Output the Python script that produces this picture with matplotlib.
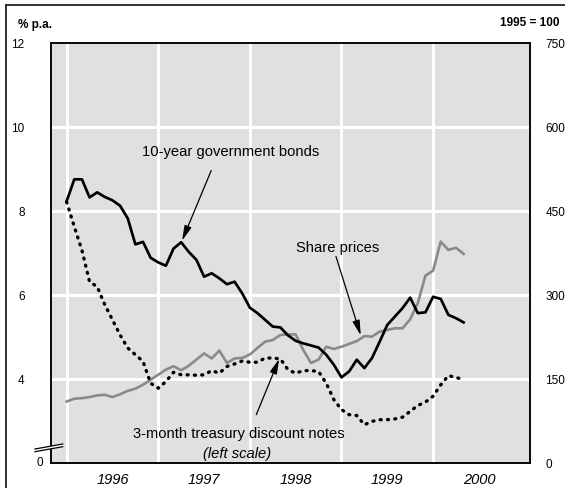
import numpy as np
import matplotlib
matplotlib.use("Agg")
import matplotlib.pyplot as plt
from matplotlib.lines import Line2D
from matplotlib.patches import Polygon

plt.rcParams['font.family'] = ['Liberation Sans', 'DejaVu Sans']

# Monthly data, Jan 1996 .. May 2000
start_year = 1996
bonds10y = [8.23, 8.75, 8.75, 8.32, 8.44, 8.33, 8.25, 8.12, 7.82, 7.20,
            7.26, 6.88, 6.77, 6.69, 7.10, 7.25, 7.02, 6.83, 6.43, 6.51,
            6.39, 6.25, 6.31, 6.03, 5.69, 5.56, 5.40, 5.24, 5.22, 5.03,
            4.90, 4.84, 4.79, 4.74, 4.57, 4.33, 4.03, 4.17, 4.45, 4.25,
            4.49, 4.88, 5.28, 5.48, 5.68, 5.93, 5.56, 5.58, 5.95, 5.90,
            5.52, 5.44, 5.34]
notes3m = [8.21, 7.62, 7.06, 6.31, 6.19, 5.76, 5.40, 5.04, 4.73, 4.57,
           4.41, 3.89, 3.77, 3.93, 4.15, 4.09, 4.09, 4.08, 4.09, 4.19,
           4.13, 4.29, 4.35, 4.42, 4.39, 4.39, 4.49, 4.49, 4.47, 4.21,
           4.13, 4.19, 4.19, 4.17, 3.89, 3.50, 3.26, 3.14, 3.12, 2.90,
           2.98, 3.02, 3.02, 3.04, 3.08, 3.22, 3.36, 3.44, 3.58, 3.85,
           4.07, 4.03, 3.97]
shares = [109, 114, 115, 117, 120, 121, 117, 122, 128, 132,
          139, 148, 157, 166, 172, 165, 173, 184, 195, 186,
          200, 178, 186, 187, 193, 205, 216, 219, 228, 229,
          229, 201, 178, 184, 207, 203, 207, 212, 217, 226,
          225, 234, 237, 240, 240, 256, 285, 334, 343, 395,
          380, 384, 373]

left_ticks = [4, 6, 8, 10, 12]
left_tick_labels = ['4', '6', '8', '10', '12']
right_ticks = [0, 150, 300, 450, 600, 750]
year_labels = ['1996', '1997', '1998', '1999', '2000']

W, H = 565, 489
fig = plt.figure(figsize=(W / 100, H / 100), dpi=100)
ax = fig.add_axes([51 / W, 1 - 463.5 / H, (530 - 51) / W, (463.5 - 44) / H])

x = start_year + np.arange(len(bonds10y)) / 12.0

ax.set_facecolor('#e0e0e0')

# white grid
for yr in range(1996, 2001):
    ax.axvline(yr, color='white', lw=2.2, zorder=1)
for yv in [4, 6, 8, 10]:
    ax.axhline(yv, color='white', lw=2.2, zorder=1)

ax2 = ax.twinx()
ax2.set_zorder(ax.get_zorder() + 1)
ax2.patch.set_visible(False)

# shares on right scale; rate lines drawn in left-axis coordinates but on top layer
ax2.plot(x, shares, color='#8a8a8a', lw=1.9, zorder=3)
ax2.plot(x, bonds10y, color='black', lw=1.95, zorder=4, transform=ax.transData)
ax2.plot(x, notes3m, color='black', lw=2.4, linestyle=(0, (0.3, 1.9)),
         dash_capstyle='round', zorder=4, transform=ax.transData)

ax.set_xlim(1995.829, 2001.058)
ax.set_ylim(2, 12)
ax2.set_ylim(0, 750)

for a in (ax, ax2):
    for s in a.spines.values():
        s.set_linewidth(1.1)
        s.set_color('black')

# ticks
ax.set_yticks(left_ticks)
ax.set_yticklabels(left_tick_labels)
ax.tick_params(axis='y', length=0, pad=19, labelsize=8.5)
ax2.set_yticks(right_ticks)
ax2.set_yticklabels([str(v) for v in right_ticks])
ax2.tick_params(axis='y', length=0, pad=11, labelsize=8.5)
ax.set_xticks([y + 0.5 for y in range(1996, 2001)])
ax.set_xticklabels(year_labels, fontstyle='italic', fontsize=10.5)
ax.tick_params(axis='x', length=0, pad=7)

# zero label on left (broken axis)
fig.text(40 / W, 1 - 463.5 / H, '0', fontsize=8.5, ha='center', va='center')

# header texts
fig.text(18 / W, 1 - 25 / H, '% p.a.', fontsize=8.5, fontweight='bold', ha='left', va='center')
fig.text(560 / W, 1 - 23.5 / H, '1995 = 100', fontsize=8.5, fontweight='bold', ha='right', va='center')

# axis break marks
def fp(px, py):
    return (px / W, 1 - py / H)

poly = Polygon([fp(35, 450), fp(62.7, 445), fp(62.7, 447.7), fp(35, 452.7)],
               closed=True, transform=fig.transFigure, facecolor='white',
               edgecolor='none', zorder=10)
fig.add_artist(poly)
for off in (0, 2.7):
    fig.add_artist(Line2D([35 / W, 62.7 / W], [1 - (450 + off) / H, 1 - (445 + off) / H],
                          transform=fig.transFigure, color='black', lw=0.9, zorder=11))

# figure frame (left and top)
fig.add_artist(Line2D([6 / W, 6 / W], [1 - 6 / H, 0], transform=fig.transFigure, color='#222222', lw=1.3))
fig.add_artist(Line2D([6 / W, 1], [1 - 6 / H, 1 - 6 / H], transform=fig.transFigure, color='#222222', lw=1.3))

aprops = dict(arrowstyle='-|>,head_length=0.9,head_width=0.22', color='black', lw=0.9,
              shrinkA=0, shrinkB=0)
fs = 10.6
ax.annotate('10-year government bonds', xy=(1996.822, 9.43), ha='left', va='center',
            fontsize=fs, zorder=6)
ax2.annotate('', xy=(x[15] + 0.01, (bonds10y[15] - 2) * 75 + 3),
             xytext=(1997.578, (8.96 - 2) * 75), arrowprops=dict(aprops), zorder=6)
ax2.annotate('Share prices', xy=(1998.504, (7.13 - 2) * 75), ha='left', va='center',
             fontsize=fs, zorder=6)
ax2.annotate('', xy=(1999.21, (5.03 - 2) * 75), xytext=(1998.94, (6.91 - 2) * 75),
             arrowprops=dict(aprops), zorder=6)
ax2.annotate('3-month treasury discount notes', xy=(1996.725, (2.70 - 2) * 75),
             ha='left', va='center', fontsize=fs, zorder=6)
ax2.annotate('', xy=(1998.32, (4.47 - 2) * 75), xytext=(1998.07, (3.14 - 2) * 75),
             arrowprops=dict(aprops), zorder=6)
ax2.text(1997.86, (2.22 - 2) * 75, '(left scale)', fontstyle='italic', fontsize=fs,
         ha='center', va='center', zorder=6)

fig.savefig('out.png', dpi=100)
